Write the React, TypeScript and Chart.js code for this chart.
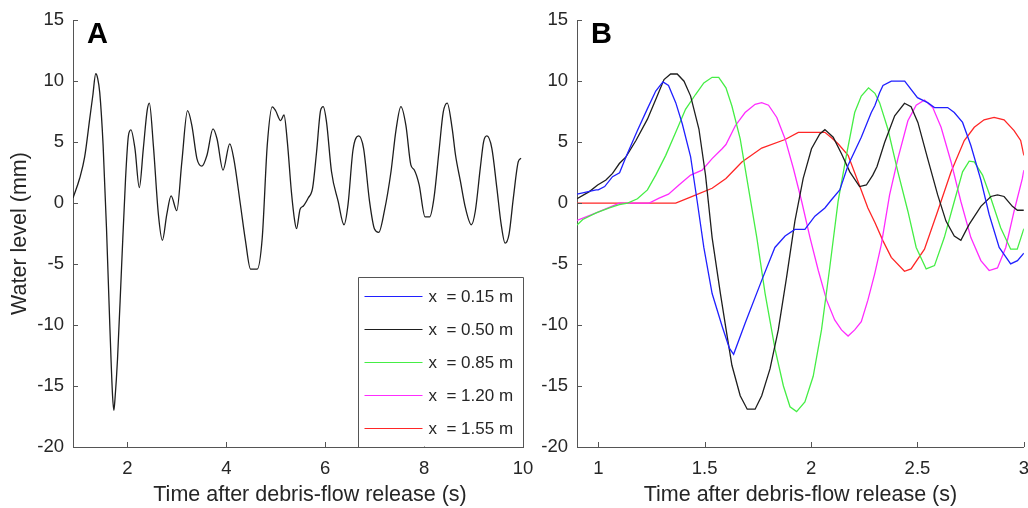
import React, { useEffect, useRef } from 'react';
import { Chart, registerables } from 'chart.js';

Chart.register(...registerables);

const FONT = '"Liberation Sans", Arial, Helvetica, sans-serif';
const axisColor = '#555555';
const textColor = '#262626';

// ---------- Panel A: single gauge record ----------
const timeA = [
  0.9, 1.035, 1.136, 1.238, 1.3, 1.36, 1.4, 1.441, 1.509, 1.577, 1.645, 1.7, 1.726, 1.75, 1.8, 1.882,
  1.963, 2.02, 2.071, 2.153, 2.241, 2.322, 2.4, 2.444, 2.525, 2.627, 2.708, 2.796, 2.884, 2.999,
  3.101, 3.216, 3.304, 3.406, 3.507, 3.609, 3.731, 3.812, 3.934, 4.07, 4.151, 4.286, 4.388, 4.49,
  4.625, 4.727, 4.828, 4.93, 4.998, 5.099, 5.167, 5.235, 5.316, 5.384, 5.42, 5.492, 5.559, 5.659,
  5.746, 5.826, 5.906, 5.96, 6.027, 6.127, 6.261, 6.381, 6.462, 6.562, 6.676, 6.776, 6.896, 6.997,
  7.083, 7.197, 7.331, 7.431, 7.531, 7.632, 7.732, 7.799, 7.899, 8.02, 8.113, 8.2, 8.3, 8.387,
  8.468, 8.568, 8.635, 8.735, 8.835, 8.956, 9.036, 9.136, 9.203, 9.27, 9.37, 9.471, 9.558, 9.638,
  9.718, 9.805, 9.905, 9.96,
];
const levelA = [
  0.41, 2.03, 3.78, 6.9, 8.8, 10.6, 10.2, 9.05, 4.73, -2.03, -10.1, -15.8, -17.0, -16.0, -12.8, -5.27,
  2.03, 5.5, 6.0, 4.46, 1.27, 4.46, 7.6, 8.2, 4.73, -0.95, -3.05, -0.95, 0.59, -0.62,
  3.38, 7.57, 6.35, 3.65, 3.03, 3.92, 6.08, 5.27, 2.7, 4.86, 3.65, -0.14, -3.1, -5.41,
  -5.41, -2.84, 4.73, 7.89, 7.57, 6.76, 7.22, 5.0, 0.95, -1.49, -2.1, -0.51, -0.24, 0.43,
  1.24, 4.21, 7.58, 7.91, 6.64, 2.59, 0.16, -1.78, -0.11, 4.35, 5.5, 4.48, 0.16, -2.13,
  -2.4, -0.65, 2.59, 5.96, 7.91, 6.37, 3.13, 2.73, 1.51, -1.13, -1.13, 0.43, 4.21, 7.45,
  8.2, 6.1, 3.94, 1.78, -0.38, -1.78, -0.65, 2.86, 5.02, 5.5, 4.48, 1.24, -1.73, -3.29,
  -2.54, 0.43, 3.4, 3.67,
];

// ---------- Panel B: five gauges ----------
const seriesLabels = ['x  = 0.15 m', 'x  = 0.50 m', 'x  = 0.85 m', 'x  = 1.20 m', 'x  = 1.55 m'];
const seriesColors = ['#2020ff', '#1e1e1e', '#45ee45', '#ff2cff', '#ff2626'];

const timeB015 = [
  0.9, 0.99, 1.0, 1.03, 1.067, 1.1, 1.13, 1.184, 1.23, 1.27, 1.304, 1.33, 1.364, 1.395, 1.434, 1.465,
  1.496, 1.535, 1.582, 1.616, 1.636, 1.69, 1.768, 1.83, 1.878, 1.924, 1.971, 2.018, 2.065, 2.096,
  2.135, 2.174, 2.236, 2.283, 2.3, 2.322, 2.338, 2.377, 2.44, 2.5, 2.548, 2.58, 2.642, 2.673,
  2.712, 2.751, 2.798, 2.837, 2.884, 2.938, 2.97, 3.0,
];
const levelB015 = [
  0.73, 1.08, 1.08, 1.35, 2.16, 2.48, 3.78, 5.94, 7.7, 9.18, 9.93, 9.64, 8.23, 6.48, 3.78, 0.13,
  -3.64, -7.42, -10.1, -11.9, -12.4, -9.85, -6.34, -3.64, -2.7, -2.16, -2.16, -1.08, -0.4, 0.27,
  1.08, 3.1, 5.4, 7.42, 8.0, 9.04, 9.64, 9.99, 9.99, 8.64, 8.23, 7.83, 7.83, 7.42,
  6.61, 4.72, 1.89, -0.94, -3.64, -4.99, -4.72, -4.1,
];

const timeB050 = [
  0.9, 0.958, 0.997, 1.036, 1.067, 1.099, 1.13, 1.177, 1.231, 1.27, 1.309, 1.34, 1.371, 1.403, 1.434,
  1.473, 1.504, 1.535, 1.574, 1.6, 1.628, 1.667, 1.7, 1.737, 1.768, 1.807, 1.846, 1.885, 1.924,
  1.963, 2.002, 2.041, 2.065, 2.104, 2.143, 2.182, 2.228, 2.26, 2.29, 2.31, 2.346, 2.393, 2.439,
  2.47, 2.502, 2.548, 2.595, 2.634, 2.673, 2.704, 2.743, 2.798, 2.845, 2.876, 2.907, 2.946, 2.97, 3.0,
];
const levelB050 = [
  0.35, 0.94, 1.48, 1.89, 2.43, 3.24, 3.78, 5.13, 6.88, 8.5, 10.12, 10.58, 10.58, 9.99, 8.77,
  6.07, 2.29, -2.83, -7.42, -10.3, -13.3, -15.8, -16.9, -16.9, -15.8, -13.6, -10.4, -6.07, -1.48,
  2.02, 4.45, 5.67, 6.02, 5.4, 4.05, 2.56, 1.35, 1.48, 2.29, 3.0, 4.99, 7.15, 8.18,
  7.9, 6.61, 3.64, 0.67, -1.48, -2.7, -3.05, -1.75, -0.27, 0.54, 0.67, 0.54, -0.27, -0.59, -0.59,
];

const timeB085 = [
  0.9, 0.927, 0.99, 1.052, 1.099, 1.138, 1.184, 1.231, 1.27, 1.317, 1.364, 1.41, 1.457, 1.496, 1.535,
  1.566, 1.6, 1.628, 1.667, 1.706, 1.745, 1.784, 1.831, 1.87, 1.901, 1.932, 1.971, 2.01, 2.049,
  2.088, 2.127, 2.166, 2.205, 2.236, 2.27, 2.3, 2.322, 2.361, 2.408, 2.455, 2.494, 2.541, 2.58,
  2.626, 2.673, 2.712, 2.743, 2.767, 2.806, 2.845, 2.891, 2.938, 2.969, 3.0,
];
const levelB085 = [
  -1.81, -1.35, -0.81, -0.4, -0.13, 0, 0.35, 1.08, 2.29, 3.91, 5.8, 7.69, 8.9, 9.85, 10.31,
  10.31, 9.45, 7.96, 5.26, 1.21, -2.83, -7.42, -12.0, -15.0, -16.7, -17.1, -16.3, -14.2, -10.4,
  -5.26, 0.13, 3.91, 7.42, 8.77, 9.45, 9.0, 8.23, 6.07, 2.56, -0.67, -3.64, -5.4, -5.13,
  -2.83, 0.13, 2.56, 3.43, 3.37, 2.29, 0.4, -2.02, -3.78, -3.78, -2.1,
];

const timeB120 = [
  0.9, 0.99, 1.099, 1.239, 1.286, 1.33, 1.379, 1.434, 1.488, 1.535, 1.582, 1.6, 1.644, 1.69, 1.737,
  1.768, 1.8, 1.839, 1.878, 1.917, 1.956, 1.995, 2.034, 2.073, 2.111, 2.143, 2.174, 2.205, 2.236,
  2.267, 2.299, 2.33, 2.369, 2.408, 2.455, 2.494, 2.533, 2.572, 2.611, 2.658, 2.704, 2.751, 2.798,
  2.837, 2.876, 2.915, 2.954, 2.993, 3.0,
];
const levelB120 = [
  -1.43, -0.81, 0, 0, 0.4, 0.73, 1.48, 2.29, 2.7, 3.64, 4.45, 4.8, 6.34, 7.42, 8.1,
  8.23, 8.02, 7.02, 5.26, 2.83, 0.13, -2.83, -5.53, -7.96, -9.58, -10.4, -10.9, -10.4, -9.72,
  -7.96, -5.8, -3.4, 0.67, 3.64, 6.75, 8.02, 8.45, 7.83, 6.21, 3.37, 0.13, -2.83, -4.72,
  -5.53, -5.32, -3.64, -0.67, 2.02, 2.7,
];

const timeB155 = [
  0.9, 1.364, 1.442, 1.535, 1.6, 1.675, 1.768, 1.878, 1.94, 2.065, 2.1, 2.127, 2.174, 2.221, 2.267,
  2.3, 2.338, 2.377, 2.439, 2.47, 2.533, 2.595, 2.658, 2.72, 2.767, 2.813, 2.86, 2.907, 2.954, 2.985, 3.0,
];
const levelB155 = [
  0, 0, 0.54, 1.21, 2.02, 3.37, 4.51, 5.21, 5.8, 5.8, 5.3, 4.86, 3.91, 1.75, -0.4,
  -1.6, -3.1, -4.45, -5.59, -5.4, -3.78, -0.67, 2.56, 5.13, 6.21, 6.83, 7.02, 6.83, 5.94, 5.13, 3.9,
];

const timesB = [timeB015, timeB050, timeB085, timeB120, timeB155];
const levelsB = [levelB015, levelB050, levelB085, levelB120, levelB155];

const yMin = -20;
const yMax = 15;
const yStep = 5;
const xTicksA = [2, 4, 6, 8, 10];
const xTicksB = [1, 1.5, 2, 2.5, 3];
const xTitle = 'Time after debris-flow release (s)';
const yTitle = 'Water level (mm)';

const toPoints = (ts: number[], vs: number[]) => ts.map((t, i) => ({ x: t, y: vs[i] }));

const decorPlugin = {
  id: 'decor',
  afterDraw(chart: any, _args: any, opts: any) {
    const ctx = chart.ctx as CanvasRenderingContext2D;
    const { left, right, bottom } = chart.chartArea;
    const xs = chart.scales.x;
    const ys = chart.scales.y;
    ctx.save();
    // inward tick marks
    ctx.strokeStyle = axisColor;
    ctx.lineWidth = 1;
    ctx.beginPath();
    xs.ticks.forEach((t: any) => {
      const p = Math.round(xs.getPixelForValue(t.value)) + 0.5;
      ctx.moveTo(p, bottom);
      ctx.lineTo(p, bottom - 5);
    });
    ys.ticks.forEach((t: any) => {
      const p = Math.round(ys.getPixelForValue(t.value)) + 0.5;
      ctx.moveTo(left, p);
      ctx.lineTo(left + 5, p);
    });
    ctx.stroke();

    // x-axis title (MATLAB-like placement)
    ctx.fillStyle = textColor;
    ctx.font = `21.5px ${FONT}`;
    ctx.textAlign = 'center';
    ctx.textBaseline = 'middle';
    ctx.fillText(xTitle, (left + right) / 2 + opts.titleShift, 495);

    // panel letter
    ctx.fillStyle = '#000';
    ctx.font = `bold 29px ${FONT}`;
    ctx.textAlign = 'left';
    ctx.textBaseline = 'alphabetic';
    ctx.fillText(opts.letter, left + 14, 43);

    // legend
    if (opts.legend) {
      const bl = Math.round(right - 165) + 0.5;
      const bt = 277.5;
      const br = Math.round(right) + 0.5;
      const bb = Math.round(bottom) + 0.5;
      ctx.fillStyle = '#ffffff';
      ctx.fillRect(bl, bt, br - bl, bb - bt - 1);
      ctx.strokeStyle = axisColor;
      ctx.lineWidth = 1;
      ctx.beginPath();
      ctx.moveTo(bl, bb);
      ctx.lineTo(bl, bt);
      ctx.lineTo(br, bt);
      ctx.lineTo(br, bb);
      ctx.stroke();
      ctx.font = `17px ${FONT}`;
      ctx.textBaseline = 'middle';
      seriesLabels.forEach((lab, i) => {
        const cy = Math.round(bt + 18 + i * 33) + 0.5;
        ctx.strokeStyle = seriesColors[i];
        ctx.lineWidth = 1.2;
        ctx.beginPath();
        ctx.moveTo(bl + 6, cy);
        ctx.lineTo(bl + 64, cy);
        ctx.stroke();
        ctx.fillStyle = textColor;
        ctx.fillText(lab, bl + 70, cy + 1);
      });
    }
    ctx.restore();
  },
};

function buildOptions(p: {
  xMin: number; xMax: number; xTicks: number[]; yWidth: number; padRight: number;
  showYTitle: boolean; letter: string; legend: boolean; titleShift: number;
}) {
  return {
    animation: false as const,
    responsive: false,
    devicePixelRatio: 1,
    layout: { padding: { top: 17, right: p.padRight, bottom: 0, left: 0 } },
    plugins: {
      legend: { display: false },
      tooltip: { enabled: false },
      decor: { letter: p.letter, legend: p.legend, titleShift: p.titleShift },
    },
    elements: { point: { radius: 0 } },
    scales: {
      x: {
        type: 'linear' as const,
        min: p.xMin,
        max: p.xMax,
        afterBuildTicks: (scale: any) => {
          scale.ticks = p.xTicks.map((v) => ({ value: v }));
        },
        afterFit: (scale: any) => {
          scale.height = 61;
        },
        grid: { display: false, drawTicks: false },
        border: { display: true, color: axisColor, width: 1 },
        ticks: {
          color: textColor,
          font: { family: FONT, size: 18.5 },
          padding: 11,
          maxRotation: 0,
          autoSkip: false,
          callback: (v: any) => String(v),
        },
        title: { display: false, text: xTitle },
      },
      y: {
        type: 'linear' as const,
        min: yMin,
        max: yMax,
        afterFit: (scale: any) => {
          scale.width = p.yWidth;
        },
        grid: { display: false, drawTicks: false },
        border: { display: true, color: axisColor, width: 1 },
        ticks: {
          stepSize: yStep,
          color: textColor,
          font: { family: FONT, size: 18.5 },
          padding: 9,
          callback: (v: any) => String(v),
        },
        title: {
          display: p.showYTitle,
          text: yTitle,
          color: textColor,
          font: { family: FONT, size: 21.5 },
          padding: { top: 7, bottom: 0 },
        },
      },
    },
  };
}

export default function App() {
  const refA = useRef<HTMLCanvasElement | null>(null);
  const refB = useRef<HTMLCanvasElement | null>(null);

  useEffect(() => {
    const chartA = new Chart(refA.current as HTMLCanvasElement, {
      type: 'line',
      data: {
        datasets: [
          {
            label: 'A',
            data: toPoints(timeA, levelA),
            borderColor: '#1e1e1e',
            borderWidth: 1.3,
            cubicInterpolationMode: 'monotone',
            pointRadius: 0,
            fill: false,
          },
        ],
      },
      options: buildOptions({
        xMin: 0.9, xMax: 10, xTicks: xTicksA, yWidth: 73, padRight: 22,
        showYTitle: true, letter: 'A', legend: true, titleShift: 12,
      }) as any,
      plugins: [decorPlugin as any],
    });

    const chartB = new Chart(refB.current as HTMLCanvasElement, {
      type: 'line',
      data: {
        datasets: seriesLabels.map((lab, i) => ({
          label: lab,
          data: toPoints(timesB[i], levelsB[i]),
          borderColor: seriesColors[i],
          borderWidth: 1.3,
          tension: 0,
          pointRadius: 0,
          fill: false,
        })),
      },
      options: buildOptions({
        xMin: 0.9, xMax: 3, xTicks: xTicksB, yWidth: 47, padRight: 13,
        showYTitle: false, letter: 'B', legend: false, titleShift: 0,
      }) as any,
      plugins: [decorPlugin as any],
    });

    return () => {
      chartA.destroy();
      chartB.destroy();
    };
  }, []);

  return (
    <div
      style={{
        position: 'fixed', left: 0, top: 0, width: 1028, height: 508,
        overflow: 'hidden', background: '#ffffff',
      }}
    >
      <div style={{ position: 'absolute', left: 0, top: 0, width: 545, height: 508 }}>
        <canvas ref={refA} width={545} height={508} style={{ display: 'block' }} />
      </div>
      <div style={{ position: 'absolute', left: 530, top: 0, width: 510, height: 508 }}>
        <canvas ref={refB} width={510} height={508} style={{ display: 'block' }} />
      </div>
    </div>
  );
}
